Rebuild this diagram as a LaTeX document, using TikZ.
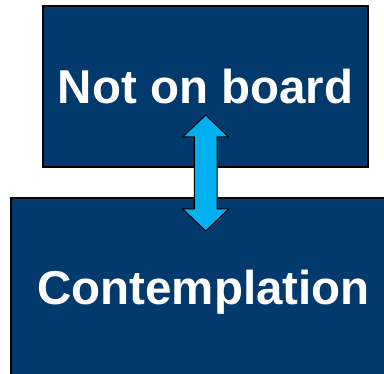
\documentclass[tikz,border=0pt]{standalone}
\usepackage{fontspec}
\setmainfont{Liberation Sans}
\usepackage{tikz}
\definecolor{boardblue}{RGB}{2,58,110}
\definecolor{arrowcyan}{RGB}{0,176,240}
\tikzset{
  stagebox/.style={draw=black, line width=2pt, fill=boardblue, text=white,
    font=\fontsize{47.5}{50}\selectfont\bfseries, inner sep=0pt},
  twoway/.style={draw=black, line width=1pt, fill=arrowcyan, line join=miter}
}

\begin{document}
\begin{tikzpicture}[x=1pt,y=-1pt]
\useasboundingbox (0,0) rectangle (384,374);
\clip (0,0) rectangle (384,374);
% ---- the two stages ----
\node[stagebox, minimum width=325pt, minimum height=161pt] (notonboard) at (205.5,86.5) {Not on board};
\node[stagebox, minimum width=385pt, minimum height=189pt] (contemplation) at (203.5,292.5) {Contemplation};
% ---- two-way arrow ----
\coordinate (swap) at (205.7,173);
\draw[twoway, shift={(swap)}] (0,-58) -- (23,-36) -- (11.3,-36) -- (11.3,36) -- (23,36)
  -- (0,58) -- (-23,36) -- (-11.3,36) -- (-11.3,-36) -- (-23,-36) -- cycle;
\end{tikzpicture}
\end{document}
